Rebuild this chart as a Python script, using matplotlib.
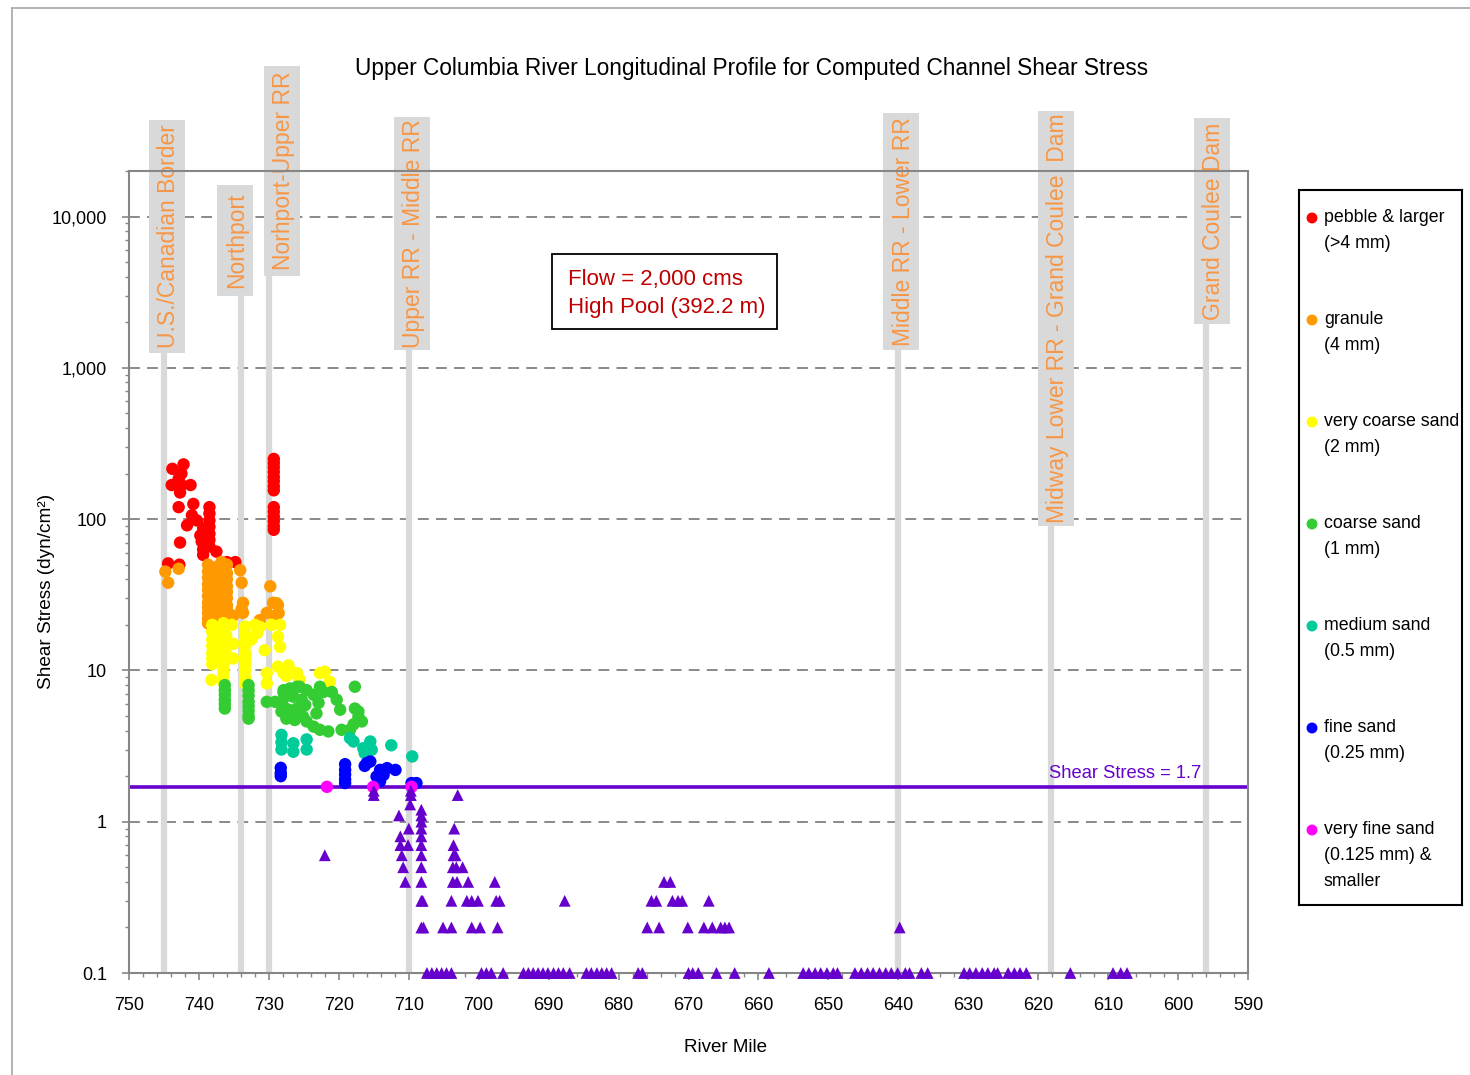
import matplotlib
matplotlib.use('Agg')
import matplotlib.pyplot as plt
import matplotlib.patches as mpatches
from matplotlib.lines import Line2D
import matplotlib.transforms as mtrans
from matplotlib.ticker import FixedLocator, FixedFormatter, MultipleLocator, LogLocator, NullFormatter

plt.rcParams['font.family'] = ['Liberation Sans', 'DejaVu Sans']

# ---------------- data ----------------
title = "Upper Columbia River Longitudinal Profile for Computed Channel Shear Stress"
x_ticks = [750, 740, 730, 720, 710, 700, 690, 680, 670, 660, 650, 640, 630, 620, 610, 600, 590]
y_ticks = [0.1, 1, 10, 100, 1000, 10000]
y_tick_labels = ["0.1", "1", "10", "100", "1,000", "10,000"]

pebble_mile = [743.8, 742.2, 742.5, 742.9, 743.9, 742.5, 741.2, 742.7, 742.9, 740.8, 741.0, 741.7,
               740.3, 738.5, 738.5, 738.5, 738.5, 738.5, 738.5, 738.5, 739.4, 739.8, 739.6, 739.4,
               739.4, 742.7, 737.5, 736.0, 734.8, 744.4, 742.8,
               729.3, 729.3, 729.3, 729.3, 729.3, 729.3, 729.3, 729.3,
               729.3, 729.3, 729.3, 729.3, 729.3, 729.3]
pebble_val = [215, 230, 200, 185, 168, 168, 168, 150, 120, 126, 106, 91,
              98, 120, 109, 98, 89, 80, 73, 66, 87, 78, 71, 63,
              58, 70, 61, 52, 52, 51, 50,
              250, 235, 220, 205, 190, 178, 165, 155,
              120, 112, 104, 97, 90, 85]

granule_mile = [744.8, 742.9, 744.4,
                738.7, 738.7, 738.7, 738.7, 738.7, 738.7, 738.7, 738.7, 738.7, 738.7, 738.7,
                738.0, 738.0, 738.0, 738.0, 738.0, 738.0, 738.0, 738.0, 738.0, 738.0,
                736.8, 736.8, 736.8, 736.8, 736.8, 736.8, 736.8, 736.8, 736.8, 736.8, 736.8,
                736.0, 736.0, 736.0, 736.0, 736.0, 736.0, 736.0, 736.0, 736.0, 736.0,
                735.1, 734.1, 733.9, 733.7, 733.7, 733.9, 731.3, 729.8, 729.4, 728.7, 730.3, 729.1,
                728.9, 728.6]
granule_val = [45, 47, 38,
               50, 45, 41, 37, 34, 31, 28, 26, 24, 22, 20.5,
               48, 43, 39, 35, 32, 29, 27, 25, 23, 21,
               52, 47, 42, 38, 34, 31, 28, 26, 24, 22, 21,
               50, 44, 40, 36, 33, 30, 27, 25, 23, 21,
               23, 46, 38, 28, 24, 25.5, 21.5, 36, 28, 27, 24, 23,
               27.8, 23.9]

vcoarse_mile = [738.1, 738.1, 738.1, 738.1, 738.1, 738.1, 738.1,
                737.8, 737.8, 737.8, 737.8, 738.2,
                736.5, 736.5, 736.5, 736.5, 736.5, 736.5, 736.5, 736.5, 736.5, 736.5,
                736.1, 736.1, 736.1, 736.1,
                735.3, 735.1, 735.1,
                733.4, 733.4, 733.4, 733.4, 733.4, 733.4, 733.4, 733.4, 733.4, 733.4,
                732.5, 732.0, 731.7, 731.3, 730.6, 730.3, 730.3, 729.6, 728.4, 728.7, 728.4,
                728.7, 727.9, 727.5, 726.0, 725.6, 727.2, 726.3,
                722.7, 722.0, 721.3]
vcoarse_val = [20, 18, 16, 14.5, 13, 12, 11,
               19, 17, 15, 13.5, 8.65,
               20.5, 18.5, 16.5, 15, 13.5, 12, 11, 10, 9.2, 8.4,
               19.5, 17, 14, 12.5,
               20, 15, 12,
               19.5, 17.5, 16, 14.5, 13, 12, 11, 10, 9, 8.2,
               16, 20, 17.6, 19.4, 13.6, 9.6, 8.2, 20, 20, 16.7, 14.3,
               10.6, 9.6, 9.2, 9.6, 8.7, 10.8, 9.6,
               9.6, 9.8, 8.4]

coarse_mile = [736.3, 736.3, 736.3, 736.3, 736.3, 736.3,
               732.9, 732.9, 732.9, 732.9, 732.9, 732.9, 732.9, 732.9,
               730.3, 729.1, 727.9, 727.0, 726.0, 727.7, 726.5, 725.3, 724.8, 728.2, 727.2,
               726.0, 727.5, 726.3, 725.1, 724.6, 723.6, 722.9, 723.2, 723.6, 722.7, 722.2,
               721.0, 720.3, 719.8, 722.7, 721.5, 719.6, 718.4, 717.7, 717.7, 717.2, 717.9,
               716.7, 717.2, 727.9, 725.6, 727.9, 726.0, 724.6]
coarse_val = [8, 7.4, 6.9, 6.4, 6.0, 5.6,
              8, 7.4, 6.8, 6.2, 5.8, 5.4, 5.0, 4.8,
              6.2, 6.2, 7.4, 7.6, 7.8, 6.7, 6.7, 6.4, 5.9, 5.35, 5.5,
              5.6, 4.8, 4.7, 4.95, 4.6, 6.9, 6.1, 5.2, 4.25, 7.8, 7.2,
              7.2, 6.4, 5.5, 4.05, 3.95, 4.05, 4.05, 7.8, 5.6, 4.95, 4.4,
              4.6, 5.35, 7.1, 7.8, 5.75, 5.2, 7.4]

medium_mile = [728.2, 728.2, 728.2, 726.5, 726.5, 724.6, 724.6, 718.4, 717.9,
               716.5, 716.3, 715.5, 715.3, 712.5, 709.5]
medium_val = [3.75, 3.35, 3.0, 3.3, 2.9, 3.5, 3.0, 3.57, 3.39,
              3.06, 2.84, 3.39, 2.99, 3.2, 2.7]

fine_mile = [728.3, 728.3, 728.3, 719.1, 719.1, 719.1, 719.1, 719.1,
             716.0, 715.5, 716.3, 714.1, 713.1, 711.9, 714.6, 714.1, 713.6, 709.6, 708.9]
fine_val = [2.27, 2.1, 2.0, 2.4, 2.2, 2.05, 1.9, 1.8,
            2.44, 2.5, 2.34, 2.2, 2.26, 2.2, 1.99, 1.85, 2.04, 1.8, 1.8]

vfine_mile = [721.7, 715.1, 709.6]
vfine_val = [1.7, 1.7, 1.7]

tri_mile = [715.0, 715.0, 709.7, 709.7, 709.8, 703.0, 711.4,
            708.2, 708.2, 708.2, 708.2, 708.2, 708.2, 708.2, 708.2, 708.2, 708.2, 708.2,
            710.0, 710.1, 711.2, 711.2, 711.0, 710.8, 710.5,
            703.5, 703.6, 703.6, 703.3, 703.7, 703.2, 702.3, 703.7, 703.1, 701.5, 697.7,
            708.0, 703.9, 701.7, 701.0, 700.1, 697.5, 697.0, 687.7, 675.3, 674.6, 672.3, 671.5, 670.9, 667.1,
            673.5, 672.6,
            707.9, 705.1, 703.9, 701.0, 699.8, 697.3, 675.9, 674.2, 670.1, 667.8, 666.6, 665.4, 664.8, 664.2, 639.8,
            722.0,
            707.4, 706.7, 706.0, 705.3, 704.6, 703.9, 699.6, 698.9, 698.2, 696.5, 693.6, 692.9, 692.2,
            691.5, 690.8, 690.1, 689.3, 688.6, 687.9, 687.0, 684.6, 683.9, 683.1, 682.4, 681.7, 681.0,
            677.2, 676.6, 670.0, 669.4, 668.6, 666.0, 663.4, 658.5, 653.6, 652.8, 651.9, 651.1, 650.2,
            649.3, 648.7, 646.2, 645.3, 644.4, 643.6, 642.7, 641.8, 641.0, 640.1, 639.0, 638.4, 636.7,
            635.8, 630.6, 629.8, 628.9, 628.0, 627.2, 626.3, 625.8, 624.3, 623.4, 622.6, 621.7, 615.4,
            609.3, 608.2, 607.3]
tri_val = [1.6, 1.5, 1.6, 1.5, 1.3, 1.5, 1.1,
           1.2, 1.1, 1.0, 0.9, 0.8, 0.7, 0.6, 0.5, 0.4, 0.3, 0.2,
           0.9, 0.7, 0.8, 0.7, 0.6, 0.5, 0.4,
           0.9, 0.7, 0.6, 0.6, 0.5, 0.5, 0.5, 0.4, 0.4, 0.4, 0.4,
           0.3, 0.3, 0.3, 0.3, 0.3, 0.3, 0.3, 0.3, 0.3, 0.3, 0.3, 0.3, 0.3, 0.3,
           0.4, 0.4,
           0.2, 0.2, 0.2, 0.2, 0.2, 0.2, 0.2, 0.2, 0.2, 0.2, 0.2, 0.2, 0.2, 0.2, 0.2,
           0.6,
           0.1, 0.1, 0.1, 0.1, 0.1, 0.1, 0.1, 0.1, 0.1, 0.1, 0.1, 0.1, 0.1,
           0.1, 0.1, 0.1, 0.1, 0.1, 0.1, 0.1, 0.1, 0.1, 0.1, 0.1, 0.1, 0.1,
           0.1, 0.1, 0.1, 0.1, 0.1, 0.1, 0.1, 0.1, 0.1, 0.1, 0.1, 0.1, 0.1,
           0.1, 0.1, 0.1, 0.1, 0.1, 0.1, 0.1, 0.1, 0.1, 0.1, 0.1, 0.1, 0.1,
           0.1, 0.1, 0.1, 0.1, 0.1, 0.1, 0.1, 0.1, 0.1, 0.1, 0.1, 0.1, 0.1,
           0.1, 0.1, 0.1]

threshold = 1.7
threshold_label = "Shear Stress = 1.7"

ref_miles = [745.0, 734.0, 730.0, 710.0, 640.0, 618.1, 596.0]
ref_labels = ["U.S./Canadian Border", "Northport", "Norhport-Upper RR", "Upper RR - Middle RR",
              "Middle RR - Lower RR", "Midway Lower RR - Grand Coulee  Dam", "Grand Coulee Dam"]

series_names = ["pebble & larger\n(>4 mm)", "granule\n(4 mm)", "very coarse sand\n(2 mm)",
                "coarse sand\n(1 mm)", "medium sand\n(0.5 mm)", "fine sand\n(0.25 mm)",
                "very fine sand\n(0.125 mm) &\nsmaller"]
series_colors = ["#FF0000", "#FF9900", "#FFFF00", "#33CC33", "#00CC99", "#0000FF", "#FF00FF"]
tri_color = "#6600CC"

flow_text = ["Flow = 2,000 cms", "High Pool (392.2 m)"]

# ---------------- layout ----------------
W, H = 1470, 1075
fig = plt.figure(figsize=(W / 100, H / 100), dpi=100)


def fx(px):
    return px / W


def fy(py):
    return 1 - py / H


AX_L, AX_R, AX_T, AX_B = 129, 1248, 171, 973
ax = fig.add_axes([fx(AX_L), fy(AX_B), (AX_R - AX_L) / W, (AX_B - AX_T) / H])


def afy(py):
    return (AX_B - py) / (AX_B - AX_T)


ax.set_xlim(750, 590)
ax.set_yscale('log')
ax.set_ylim(0.1, 20000)

grey = '#868686'
for s in ax.spines.values():
    s.set_color(grey)
    s.set_linewidth(1.5)

ax.xaxis.set_major_locator(FixedLocator(x_ticks))
ax.xaxis.set_minor_locator(MultipleLocator(2))
ax.yaxis.set_major_locator(FixedLocator(y_ticks))
ax.yaxis.set_major_formatter(FixedFormatter(y_tick_labels))
ax.yaxis.set_minor_locator(LogLocator(base=10, subs=range(2, 10), numticks=20))
ax.yaxis.set_minor_formatter(NullFormatter())
ax.tick_params(axis='both', which='major', direction='out', length=5, width=1.2, color=grey,
               labelsize=13)
ax.tick_params(axis='both', which='minor', direction='out', length=3, width=1.0, color=grey)
ax.tick_params(axis='x', which='major', pad=12)
ax.tick_params(axis='y', which='major', pad=11)

for yv in y_ticks[1:]:
    ax.axhline(yv, color='#808080', lw=1.3, linestyle=(0, (6, 4)), zorder=1)

# reference bars and label boxes
xt = mtrans.blended_transform_factory(ax.transData, ax.transAxes)
box_centers_px = [167, 235, 282, 412, 901.3, 1056, 1212]
box_tops_px = [120, 185, 66, 117, 113, 111, 118.5]
box_bottoms_px = [353, 296, 276, 350.5, 350, 526, 324]
px_per_mile = (AX_R - AX_L) / 160.0
for m, lab, cpx, tpx, bpx in zip(ref_miles, ref_labels, box_centers_px, box_tops_px, box_bottoms_px):
    ax.plot([m, m], [0, afy(bpx)], transform=xt, color='#D9D9D9', lw=4.5, solid_capstyle='butt',
            zorder=1.5, clip_on=False)
    cm = 750 - (cpx - AX_L) / px_per_mile
    wm = 36 / px_per_mile
    rect = mpatches.Rectangle((cm + wm / 2, afy(bpx)), -wm, afy(tpx) - afy(bpx), transform=xt,
                              facecolor='#D9D9D9', edgecolor='none', clip_on=False, zorder=1.6)
    ax.add_patch(rect)
    ax.text(cm - 0.25, (afy(tpx) + afy(bpx)) / 2, lab, transform=xt, rotation=90, ha='center',
            va='center', color='#F79646', fontsize=16.5, clip_on=False, zorder=1.7)

# threshold line
ax.axhline(threshold, color=tri_color, lw=2.6, zorder=2)
ax.text(607.6, 2.07, threshold_label, color=tri_color, fontsize=13.2, ha='center', va='center')

# scatter series
ms = 80
series = [(pebble_mile, pebble_val), (granule_mile, granule_val), (vcoarse_mile, vcoarse_val),
          (coarse_mile, coarse_val), (medium_mile, medium_val), (fine_mile, fine_val),
          (vfine_mile, vfine_val)]
for (xm, yv), col in zip(series, series_colors):
    ax.scatter(xm, yv, s=ms, color=col, edgecolors='none', zorder=3, clip_on=False)
ax.scatter(tri_mile, tri_val, s=72, marker='^', color=tri_color, edgecolors='none', zorder=3.5,
           clip_on=False)

# titles
fig.text(fx(752), fy(69), title, ha='center', va='center', fontsize=16.3)
fig.text(fx(726), fy(1048), "River Mile", ha='center', va='center', fontsize=13.5)
fig.text(fx(47), fy(591), "Shear Stress (dyn/cm²)", ha='center', va='center', rotation=90,
         fontsize=13.7)

# flow box
fig.add_artist(mpatches.Rectangle((fx(552), fy(329)), (777 - 552) / W, (329 - 254) / H,
                                  transform=fig.transFigure, facecolor='white',
                                  edgecolor='black', lw=1.3))
fig.text(fx(568), fy(279), flow_text[0], ha='left', va='center', fontsize=16, color='#C00000')
fig.text(fx(568), fy(307), flow_text[1], ha='left', va='center', fontsize=16, color='#C00000')

# legend (manual, in its own axes using pixel-like coords)
LG_L, LG_R, LG_T, LG_B = 1299, 1462, 190, 905
lax = fig.add_axes([fx(LG_L), fy(LG_B), (LG_R - LG_L) / W, (LG_B - LG_T) / H])
lax.set_xlim(0, LG_R - LG_L)
lax.set_ylim(LG_B - LG_T, 0)
lax.set_xticks([])
lax.set_yticks([])
for s in lax.spines.values():
    s.set_color('black')
    s.set_linewidth(1.5)
for i, (name, col) in enumerate(zip(series_names, series_colors)):
    y0 = 28 + 102 * i
    lax.scatter([13], [y0], s=62, color=col, edgecolors='none')
    for j, line in enumerate(name.split('\n')):
        lax.text(25, y0 + 26 * j, line, ha='left', va='center', fontsize=12.8)

# outer chart border
fig.add_artist(Line2D([fx(12), fx(12)], [fy(8), 0], transform=fig.transFigure, color='#A6A6A6', lw=1.2))
fig.add_artist(Line2D([fx(12), 1], [fy(8), fy(8)], transform=fig.transFigure, color='#A6A6A6', lw=1.2))

fig.savefig('out.png', dpi=100)
